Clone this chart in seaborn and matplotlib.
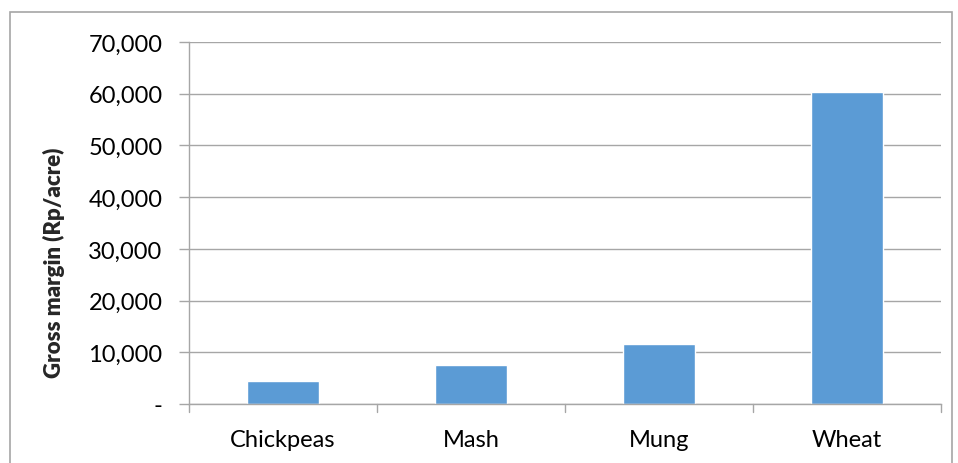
import pandas as pd
import matplotlib.pyplot as plt
import seaborn as sns
from matplotlib.patches import Rectangle
from matplotlib.ticker import FuncFormatter

crops = ["Chickpeas", "Mash", "Mung", "Wheat"]
gross_margin = [4450, 7480, 11550, 60300]
y_ticks = [0, 10000, 20000, 30000, 40000, 50000, 60000, 70000]

df = pd.DataFrame({"Crop": crops, "Gross margin": gross_margin})

sns.set_style("white")
plt.rcParams["font.family"] = ["Lato", "DejaVu Sans"]

fig = plt.figure(figsize=(9.58, 4.64), dpi=100)
fig.patch.set_facecolor("white")
ax = fig.add_axes([189 / 958, 1 - 405 / 464, (941 - 189) / 958, (405 - 43) / 464])

sns.barplot(data=df, x="Crop", y="Gross margin", color="#5B9BD5",
            saturation=1, width=0.38, ax=ax)

grid = "#a6a6a6"
ax.set_ylim(0, 70000)
ax.set_xlim(-0.5, len(crops) - 0.5)
ax.set_yticks(y_ticks)
ax.yaxis.set_major_formatter(
    FuncFormatter(lambda v, _: "-" if v == 0 else f"{int(v):,}"))
ax.set_axisbelow(True)
ax.yaxis.grid(True, color=grid, linewidth=1)

for s in ["top", "right"]:
    ax.spines[s].set_visible(False)
for s in ["left", "bottom"]:
    ax.spines[s].set_color(grid)
    ax.spines[s].set_linewidth(1)

ax.tick_params(axis="y", length=7, width=1, color=grid, labelsize=17,
               pad=12, left=True, labelcolor="#000000")
ax.tick_params(axis="x", length=0, labelsize=17, pad=18, labelcolor="#000000")
for b in [i - 0.5 for i in range(len(crops) + 1)]:
    ax.plot([b, b], [0, -0.022], transform=ax.get_xaxis_transform(),
            color=grid, lw=1, clip_on=False)

ax.set_xlabel("")
ax.set_ylabel("Gross margin (Rp/acre)", fontsize=16, fontweight="heavy")
ax.yaxis.set_label_coords(-0.165, 0.392)

fig.patches.append(Rectangle((10 / 958, -0.05), (952 - 10) / 958, 1.05 - 13 / 464,
                             transform=fig.transFigure, fill=False,
                             edgecolor="#a6a6a6", linewidth=1.2))

plt.savefig("out.png", dpi=100)
